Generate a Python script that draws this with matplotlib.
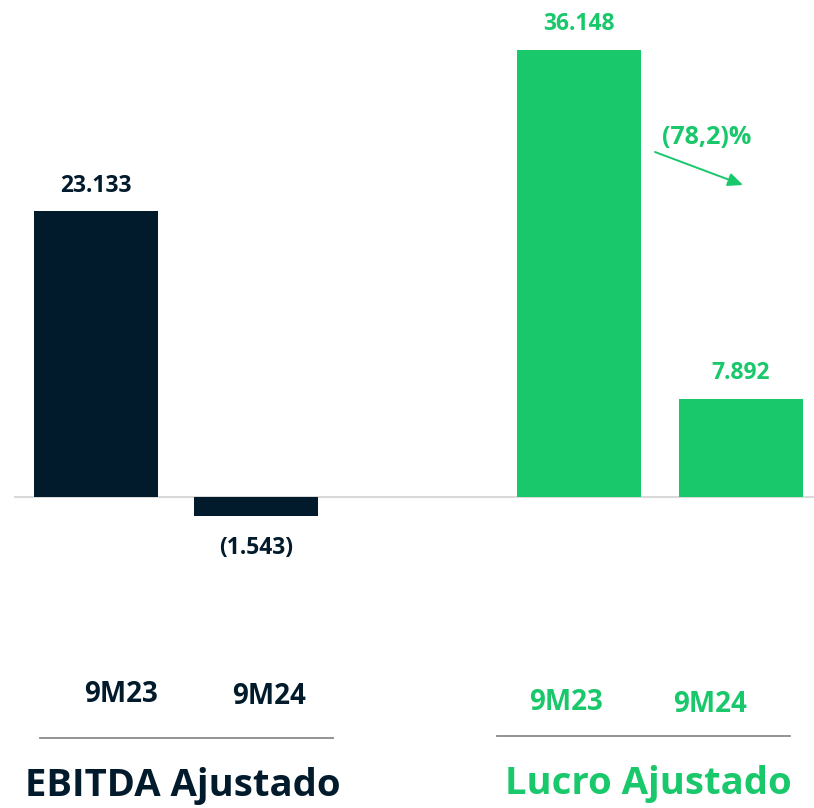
import matplotlib
matplotlib.use("Agg")
import matplotlib.pyplot as plt

# Data
groups = ["EBITDA Ajustado", "Lucro Ajustado"]
periods = ["9M23", "9M24"]
ebitda = [23133, -1543]
lucro = [36148, 7892]
ebitda_labels = ["23.133", "(1.543)"]
lucro_labels = ["36.148", "7.892"]
change_label = "(78,2)%"

NAVY = "#021b2c"
GREEN = "#19c86b"
FONT = "Open Sans"

W, H = 814, 808
fig = plt.figure(figsize=(W / 100, H / 100), dpi=100)
ax = fig.add_axes([0, 0, 1, 1])
ax.set_axis_off()

# layout (pixels -> data)
px_per_x = 160.0
x0_px = 96.0
scale = 286.0 / 23133.0  # px per unit
base_px = 497.0
ax.set_xlim(-x0_px / px_per_x, (W - x0_px) / px_per_x)
ax.set_ylim(-(H - base_px) / scale, base_px / scale)

xpos_e = [0.0, 1.0]
xpos_l = [3.02, 4.03]
bw = 124.0 / px_per_x

ax.bar(xpos_e, ebitda, width=bw, color=NAVY, zorder=2)
ax.bar(xpos_l, lucro, width=bw, color=GREEN, zorder=2)

# baseline
ax.plot([(15 - x0_px) / px_per_x, (W - x0_px) / px_per_x], [0, 0],
        color="#d9d9d9", lw=1.5, zorder=1)

off = 25.0 / scale
for x, v, lab in zip(xpos_e, ebitda, ebitda_labels):
    y = v + off if v >= 0 else v - 32.0 / scale
    ax.text(x, y, lab, ha="center", va="center", fontsize=16.5,
            fontweight="bold", color=NAVY, family=FONT)
for x, v, lab in zip(xpos_l, lucro, lucro_labels):
    ax.text(x, v + off + 1.0 / scale, lab, ha="center", va="center", fontsize=16.5,
            fontweight="bold", color=GREEN, family=FONT)

# change arrow
def p2d(px, py):
    return ((px - x0_px) / px_per_x, (base_px - py) / scale)

ax.annotate("", xy=p2d(743, 185), xytext=p2d(655, 152),
            arrowprops=dict(arrowstyle="-|>,head_length=0.9,head_width=0.4",
                            color=GREEN, lw=1.4, shrinkA=0, shrinkB=0))
ax.text(*p2d(707, 138), change_label, ha="center", va="center", fontsize=18,
        fontweight="bold", color=GREEN, family=FONT)

def ft(px, py, s, **kw):
    fig.text(px / W, 1 - py / H, s, **kw)

# period labels
ps = 20
ft(121, 694, periods[0], ha="center", va="center", fontsize=ps, fontweight="bold", color=NAVY, family=FONT)
ft(269, 696, periods[1], ha="center", va="center", fontsize=ps, fontweight="bold", color=NAVY, family=FONT)
ft(566, 703, periods[0], ha="center", va="center", fontsize=ps, fontweight="bold", color=GREEN, family=FONT)
ft(710, 705, periods[1], ha="center", va="center", fontsize=ps, fontweight="bold", color=GREEN, family=FONT)

# separators
fig.add_artist(plt.Line2D([40 / W, 333 / W], [1 - 738 / H] * 2, color="#8a8a8a", lw=1.3))
fig.add_artist(plt.Line2D([497 / W, 790 / W], [1 - 736 / H] * 2, color="#8a8a8a", lw=1.3))

# group titles
ft(183, 786, groups[0], ha="center", va="center", fontsize=27.5, fontweight="bold", color=NAVY, family=FONT)
ft(648, 784, groups[1], ha="center", va="center", fontsize=27.5, fontweight="bold", color=GREEN, family=FONT)

fig.savefig("out.png", dpi=100, facecolor="white")
